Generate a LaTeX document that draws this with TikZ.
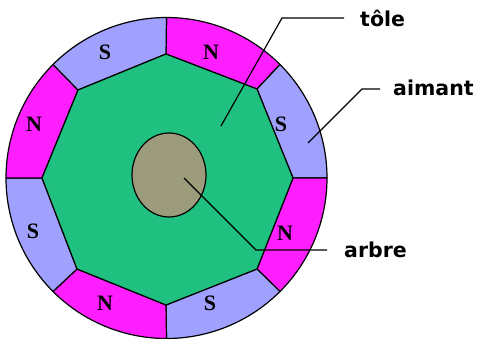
\documentclass[tikz,border=0pt]{standalone}
\usepackage{fontspec}
\usetikzlibrary{calc,shapes.geometric}
\setmainfont{Liberation Serif}
\newfontfamily\labelfont{DejaVu Sans}
\definecolor{magn}{HTML}{FF1EFF}
\definecolor{peri}{HTML}{A0A0FF}
\definecolor{tolecol}{HTML}{20C080}
\definecolor{arbrecol}{HTML}{9C9C7C}
\tikzset{
  x=1pt,y=1pt,
  outline/.style={draw=black,line width=1.2pt,line join=round},
  poleN/.style={outline,fill=magn},
  poleS/.style={outline,fill=peri},
  pole/.style={font=\bfseries\fontsize{22}{22}\selectfont,inner sep=0pt},
  callout/.style={font=\labelfont\bfseries\fontsize{20.5}{22}\selectfont,inner sep=0pt,anchor=west},
  leader/.style={draw=black,line width=1.2pt}
}
\newcommand{\sector}[4]{% style, start angle, end angle, inner start; inner end
  \path[#1] ($(C)+(#2:160.5)$) arc[start angle=#2,end angle=#3,radius=160.5] -- (#4) -- cycle;}
\begin{document}
\begin{tikzpicture}
\useasboundingbox (0,-339) rectangle (478,0);
\fill[white] (0,-339) rectangle (478,0);
\coordinate (C) at (166.5,-178);
\coordinate (i0) at (293,-178);
\coordinate (i45) at (257,-89);
\coordinate (i90) at (166,-54);
\coordinate (i135) at (78,-90);
\coordinate (i180) at (42,-178);
\coordinate (i225) at (77,-269);
\coordinate (i270) at (166,-305);
\coordinate (i315) at (257,-269);
\sector{poleN}{90}{45}{i45) -- (i90}
\sector{poleS}{45}{0}{i0) -- (i45}
\sector{poleN}{0}{-45}{i315) -- (i0}
\sector{poleS}{-45}{-90}{i270) -- (i315}
\sector{poleN}{-90}{-135}{i225) -- (i270}
\sector{poleS}{-135}{-180}{i180) -- (i225}
\sector{poleN}{180}{135}{i135) -- (i180}
\sector{poleS}{135}{90}{i90) -- (i135}
\path[outline,fill=tolecol] (i0) -- (i45) -- (i90) -- (i135) -- (i180) -- (i225) -- (i270) -- (i315) -- cycle;
\node[outline,fill=arbrecol,shape=ellipse,minimum width=74pt,minimum height=84pt,inner sep=0pt] (shaft) at (169,-175) {};
\node[pole] (s1) at (105,-52) {S};
\node[pole] (n1) at (211,-52) {N};
\node[pole] (n2) at (34,-124) {N};
\node[pole] (s2) at (281,-124) {S};
\node[pole] (s3) at (33,-231) {S};
\node[pole] (n3) at (285,-233) {N};
\node[pole] (n4) at (105,-303) {N};
\node[pole] (s4) at (210,-303) {S};
\node[callout] (tole) at (360,-18) {tôle};
\node[callout] (aimant) at (393,-88) {aimant};
\node[callout] (arbre) at (344,-250) {arbre};
\coordinate (t0) at (221,-126);
\coordinate (t1) at (282,-18);
\coordinate (a0) at (308,-143);
\coordinate (a1) at (362,-89);
\coordinate (b0) at (184,-178);
\coordinate (b1) at (256,-250);
\draw[leader] (t0) -- (t1) -- ($(tole.west |- t1)+(-16,0)$);
\draw[leader] (a0) -- (a1) -- ($(aimant.west |- a1)+(-13,0)$);
\draw[leader] (b0) -- (b1) -- ($(arbre.west |- b1)+(-17,0)$);
\end{tikzpicture}
\end{document}
